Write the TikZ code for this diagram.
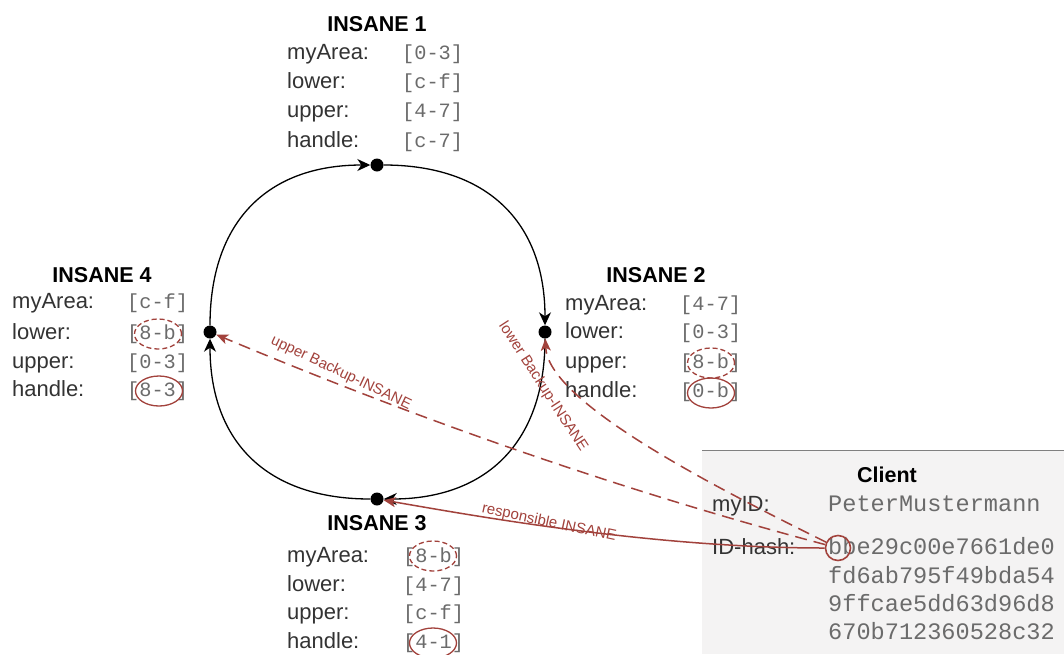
\documentclass[tikz,border=0pt]{standalone}
\usepackage{fontspec}
\setmainfont{Liberation Sans}
\setmonofont{Liberation Mono}
\usetikzlibrary{arrows.meta,shapes.geometric}
\definecolor{rd}{RGB}{162,66,60}
\definecolor{boxbg}{RGB}{244,243,243}
\tikzset{
  lbl/.style={anchor=mid west, yshift=-4pt, font=\fontsize{22}{24}\selectfont, text=black!80, inner sep=0pt},
  val/.style={anchor=mid west, yshift=-4pt, font=\ttfamily\fontsize{20.3}{22}\selectfont, text=black!58, inner sep=0pt},
  cval/.style={anchor=mid west, yshift=-4pt, font=\ttfamily\fontsize{23.6}{25}\selectfont, text=black!58, inner sep=0pt},
  ttl/.style={font=\bfseries\fontsize{21.5}{24}\selectfont, inner sep=0pt},
  dot/.style={circle, fill=black, minimum size=13pt, inner sep=0pt},
  ring/.style={line width=1.3pt, -{Stealth[length=13pt,width=12pt,inset=4pt]}},
  link/.style={draw=rd, line width=1.5pt, -{Stealth[length=12pt,width=10pt,inset=3pt]}},
  dsh/.style={dash pattern=on 12pt off 7pt},
  clab/.style={text=rd, font=\fontsize{15}{16}\selectfont, inner sep=0pt},
  ovl/.style={ellipse, draw=rd, line width=1.3pt, minimum width=47pt, minimum height=30pt, inner sep=0pt},
  ovld/.style={ovl, dash pattern=on 5pt off 3pt}
}
\begin{document}
\begin{tikzpicture}[x=1pt,y=-1pt]
\useasboundingbox (0,0) rectangle (1064,654);
\fill[white] (0,0) rectangle (1064,654);
% client box
\fill[boxbg] (702,450) rectangle (1064,654);
\draw[black!50, line width=1pt] (702,450) -- (1064,450);

% ring dots
\node[dot] (d1) at (377,165) {};
\node[dot] (d2) at (545,332) {};
\node[dot] (d3) at (377,499) {};
\node[dot] (d4) at (210,332) {};

\draw[ring] (d4) .. controls (210,222) and (267,165) .. (d1);
\draw[ring] (d1) .. controls (487,165) and (545,222) .. (d2);
\draw[ring] (d2) .. controls (545,442) and (487,499) .. (d3);
\draw[ring] (d3) .. controls (267,499) and (210,442) .. (d4);

% INSANE 1
\node[ttl] (t1) at (377,24) {INSANE 1};
\node[lbl] (l1a) at (287,53) {myArea:};
\node[lbl] (l1b) at (287,82) {lower:};
\node[lbl] (l1c) at (287,111) {upper:};
\node[lbl] (l1d) at (287,141) {handle:};
\node[val] (v1a) at (402,53) {[0-3]};
\node[val] (v1b) at (402,82) {[c-f]};
\node[val] (v1c) at (402,111) {[4-7]};
\node[val] (v1d) at (402,141) {[c-7]};

% INSANE 4
\node[ttl] (t4) at (102,275) {INSANE 4};
\node[lbl] (l4a) at (12,302) {myArea:};
\node[lbl] (l4b) at (12,333) {lower:};
\node[lbl] (l4c) at (12,362) {upper:};
\node[lbl] (l4d) at (12,390) {handle:};
\node[val] (v4a) at (127,302) {[c-f]};
\node[val] (v4b) at (127,333) {[8-b]};
\node[val] (v4c) at (127,362) {[0-3]};
\node[val] (v4d) at (127,390) {[8-3]};
\node[ovld] (e4b) at (158,334) {};
\node[ovl] (e4d) at (159,391) {};

% INSANE 2
\node[ttl] (t2) at (656,275) {INSANE 2};
\node[lbl] (l2a) at (565,304) {myArea:};
\node[lbl] (l2b) at (565,332) {lower:};
\node[lbl] (l2c) at (565,362) {upper:};
\node[lbl] (l2d) at (565,391) {handle:};
\node[val] (v2a) at (680,304) {[4-7]};
\node[val] (v2b) at (680,332) {[0-3]};
\node[val] (v2c) at (680,362) {[8-b]};
\node[val] (v2d) at (680,391) {[0-b]};
\node[ovld] (e2c) at (711,363) {};
\node[ovl] (e2d) at (711,393) {};

% INSANE 3
\node[ttl] (t3) at (377,523) {INSANE 3};
\node[lbl] (l3a) at (287,556) {myArea:};
\node[lbl] (l3b) at (287,585) {lower:};
\node[lbl] (l3c) at (287,613) {upper:};
\node[lbl] (l3d) at (287,642) {handle:};
\node[val] (v3a) at (403,556) {[8-b]};
\node[val] (v3b) at (403,585) {[4-7]};
\node[val] (v3c) at (403,613) {[c-f]};
\node[val] (v3d) at (403,642) {[4-1]};
\node[ovld] (e3a) at (433,556) {};
\node[ovl] (e3d) at (433,643) {};

% Client
\node[ttl] (tc) at (887,475) {Client};
\node[lbl] (lc1) at (712,505) {myID:};
\node[lbl] (lc2) at (712,548) {ID-hash:};
\node[cval] (c1) at (828,505) {PeterMustermann};
\node[cval] (h1) at (828,548) {bbe29c00e7661de0};
\node[cval] (h2) at (828,577) {fd6ab795f49bda54};
\node[cval] (h3) at (828,605) {9ffcae5dd63d96d8};
\node[cval] (h4) at (828,633) {670b712360528c32};
\node[circle, draw=rd, line width=1.6pt, minimum size=25pt, inner sep=0pt] (hc) at (838,548) {};

% connectors
\draw[link] (hc) .. controls (650,548) and (470,515) .. (d3);
\draw[link, dsh] (hc) .. controls (620,490) and (420,420) .. (d4);
\draw[link, dsh] (hc) .. controls (700,480) and (548,400) .. (d2);

\node[clab, rotate=-12] (cl1) at (549,523) {responsible INSANE};
\node[clab, rotate=-25.5] (cl2) at (341,373) {upper Backup-INSANE};
\node[clab, rotate=-57] (cl3) at (543,387) {lower Backup-INSANE};
\end{tikzpicture}
\end{document}
